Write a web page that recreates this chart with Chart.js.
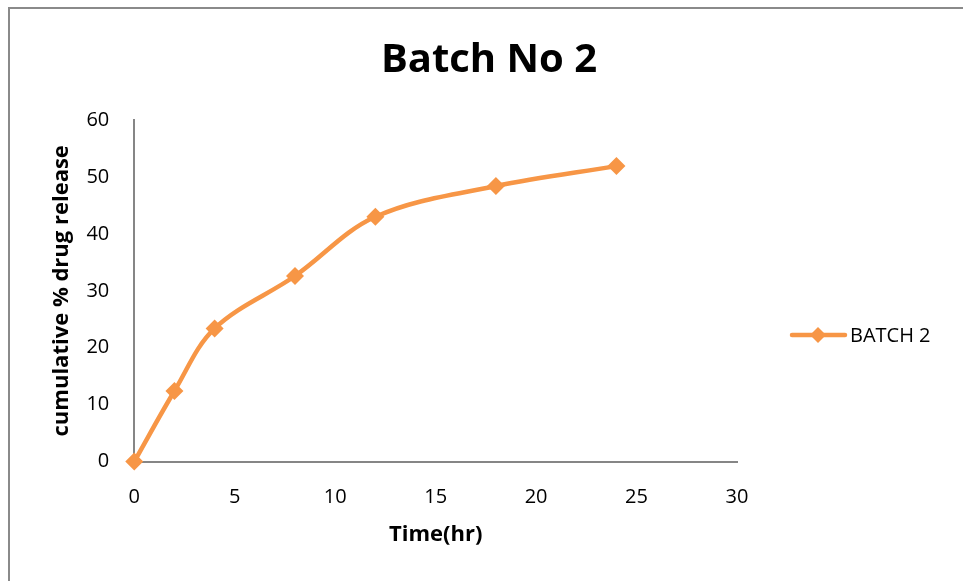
<!DOCTYPE html>
<html>
<head>
<meta charset="utf-8">
<script src="https://cdn.jsdelivr.net/npm/chart.js@4/dist/chart.umd.min.js"></script>
<style>
  html, body { margin: 0; padding: 0; background: #fff; overflow: hidden; }
  #wrap { position: relative; width: 963px; height: 581px; }
  #frame { position: absolute; left: 8px; top: 7px; width: 1000px; height: 700px;
           border-left: 2px solid #8a8a8a; border-top: 2px solid #8a8a8a; }
  canvas { position: absolute; left: 0; top: 0; }
</style>
</head>
<body>
<div id="wrap">
  <div id="frame"></div>
  <canvas id="chart" width="963" height="581"></canvas>
</div>
<script>
const hours = [0, 2, 4, 8, 12, 18, 24]
const release = [0, 12.4, 23.4, 32.6, 43.0, 48.4, 51.9]
const seriesName = "BATCH 2"
const chartTitle = "Batch No 2"
const orange = "#F79646"
const font = "'Open Sans', 'Liberation Sans', sans-serif"

// title and legend drawn by hand so they sit where the spreadsheet put them
const decorations = {
  id: "decorations",
  afterDraw(chart) {
    const ctx = chart.ctx
    ctx.save()
    ctx.fillStyle = "#000"
    ctx.font = "bold 40px " + font
    ctx.textAlign = "center"
    ctx.textBaseline = "middle"
    ctx.fillText(chartTitle, 489, 61)

    const y = 335
    ctx.strokeStyle = orange
    ctx.lineWidth = 4.5
    ctx.lineCap = "round"
    ctx.beginPath()
    ctx.moveTo(792, y)
    ctx.lineTo(845, y)
    ctx.stroke()
    ctx.fillStyle = orange
    ctx.beginPath()
    ctx.moveTo(818, y - 8)
    ctx.lineTo(826, y)
    ctx.lineTo(818, y + 8)
    ctx.lineTo(810, y)
    ctx.closePath()
    ctx.fill()
    ctx.fillStyle = "#000"
    ctx.font = "20px " + font
    ctx.textAlign = "left"
    ctx.fillText(seriesName, 850, y + 1)
    ctx.restore()
  }
}

new Chart(document.getElementById("chart"), {
  type: "line",
  data: {
    datasets: [{
      label: seriesName,
      data: hours.map((h, i) => ({ x: h, y: release[i] })),
      borderColor: orange,
      backgroundColor: orange,
      borderWidth: 4.5,
      tension: 0.35,
      pointStyle: "rectRot",
      pointRadius: 9,
      pointBorderWidth: 0,
      fill: false,
      clip: false
    }]
  },
  options: {
    responsive: false,
    animation: false,
    layout: { padding: { left: 49, right: 226, top: 120, bottom: 33 } },
    plugins: {
      legend: { display: false },
      tooltip: { enabled: false },
      title: { display: false }
    },
    scales: {
      x: {
        type: "linear",
        min: 0,
        max: 30,
        ticks: { stepSize: 5, color: "#000", padding: 24, font: { family: font, size: 20 } },
        grid: { display: false, drawTicks: false },
        border: { color: "#868686", width: 2 },
        title: {
          display: true,
          text: "Time(hr)",
          color: "#000",
          font: { family: font, size: 22, weight: "bold" },
          padding: { top: -12, bottom: 0 }
        }
      },
      y: {
        min: 0,
        max: 60,
        ticks: { stepSize: 10, color: "#000", padding: 25, font: { family: font, size: 20 } },
        grid: { display: false, drawTicks: false },
        border: { color: "#868686", width: 2 },
        title: {
          display: true,
          text: "cumulative % drug release",
          color: "#000",
          font: { family: font, size: 22, weight: "bold" },
          padding: { top: 0, bottom: -14 }
        }
      }
    }
  },
  plugins: [decorations]
})
</script>
</body>
</html>
